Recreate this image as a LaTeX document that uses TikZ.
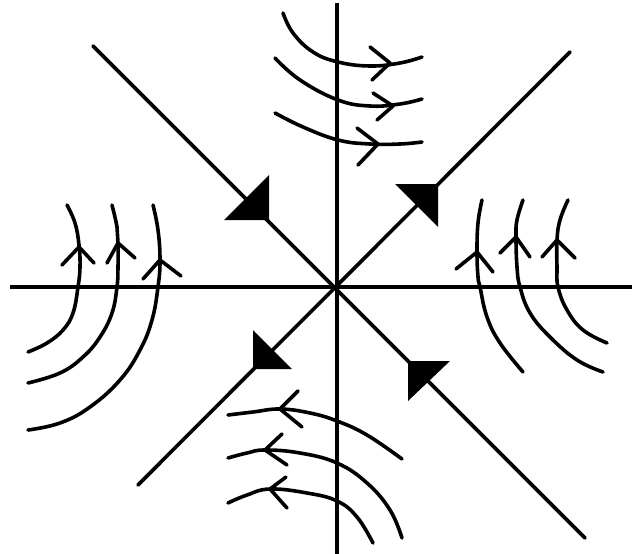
\documentclass[tikz,border=0pt]{standalone}
\begin{document}
\begin{tikzpicture}[x=1pt,y=-1pt,
  axis/.style={line width=3.6pt},
  orbit/.style={line width=3.6pt,line cap=round},
  chev/.style={line width=3.6pt,line cap=round,line join=round},
  head/.style={fill=black}]
\useasboundingbox (0,0) rectangle (632,554);
\coordinate (O) at (337,287);
% axes
\coordinate (L) at (10,287);
\coordinate (R) at (632,287);
\coordinate (T) at (337,3);
\coordinate (B) at (337,554);
\draw[axis] (L) -- (R);
\draw[axis] (T) -- (B);
% separatrices
\coordinate (NW) at (93,46);
\coordinate (SE) at (585,538);
\coordinate (NE) at (570,52);
\coordinate (SW) at (138,485);
\draw[axis,line cap=round] (NW) -- (SE);
\draw[axis,line cap=round] (NE) -- (SW);
% filled arrowheads
\fill[head] (269,220) -- (269,175) -- (224,220) -- cycle;
\fill[head] (438,184) -- (395,184) -- (438,227) -- cycle;
\fill[head] (253,369) -- (253,330) -- (292,369) -- cycle;
\fill[head] (408,361) -- (450,361) -- (408,401) -- cycle;
% top orbits
\draw[orbit] plot[smooth,tension=0.7] coordinates {(283,13) (293,33) (313,52) (338,62) (370,66) (400,63) (422,57)};
\draw[chev] (370,47) -- (390,63) -- (372,80);
\draw[orbit] plot[smooth,tension=0.7] coordinates {(275,58) (300,80) (338,100) (370,106) (400,104) (422,99)};
\draw[chev] (373,93) -- (393,106) -- (377,120);
\draw[orbit] plot[smooth,tension=0.7] coordinates {(275,113) (303,127) (338,140) (370,144) (400,144) (422,142)};
\draw[chev] (357,128) -- (378,144) -- (358,165);
% left orbits
\draw[orbit] plot[smooth,tension=0.7] coordinates {(67,205) (75,223) (79,245) (80,267) (78,287) (73,313) (63,330) (47,343) (28,352)};
\draw[chev] (62,265) -- (79,247) -- (94,263);
\draw[orbit] plot[smooth,tension=0.7] coordinates {(112,205) (117,227) (118,243) (118,267) (117,287) (112,313) (100,337) (83,357) (60,373) (28,383)};
\draw[chev] (107,263) -- (118,243) -- (135,258);
\draw[orbit] plot[smooth,tension=0.7] coordinates {(153,205) (158,230) (160,260) (158,287) (152,320) (140,350) (120,380) (90,407) (60,423) (28,430)};
\draw[chev] (143,279) -- (160,260) -- (181,276);
% right orbits
\draw[orbit] plot[smooth,tension=0.7] coordinates {(482,200) (478,223) (477,252) (478,277) (480,287) (487,317) (500,343) (523,372)};
\draw[chev] (456,269) -- (477,252) -- (493,272);
\draw[orbit] plot[smooth,tension=0.7] coordinates {(523,200) (517,220) (516,237) (517,267) (520,287) (530,313) (550,337) (577,360) (603,372)};
\draw[chev] (500,253) -- (516,237) -- (530,257);
\draw[orbit] plot[smooth,tension=0.7] coordinates {(568,200) (560,220) (557,240) (557,267) (558,287) (567,310) (583,330) (607,343)};
\draw[chev] (542,257) -- (557,240) -- (575,258);
% bottom orbits
\draw[orbit] plot[smooth,tension=0.7] coordinates {(228,415) (253,412) (280,409) (310,413) (337,421) (367,435) (402,459)};
\draw[chev] (298,391) -- (280,409) -- (302,427);
\draw[orbit] plot[smooth,tension=0.7] coordinates {(228,458) (247,453) (265,450) (300,453) (337,463) (367,483) (390,510) (402,538)};
\draw[chev] (282,434) -- (265,450) -- (287,465);
\draw[orbit] plot[smooth,tension=0.7] coordinates {(228,503) (247,495) (270,489) (307,493) (337,501) (357,517) (373,543)};
\draw[chev] (286,477) -- (270,489) -- (287,508);
\end{tikzpicture}
\end{document}
